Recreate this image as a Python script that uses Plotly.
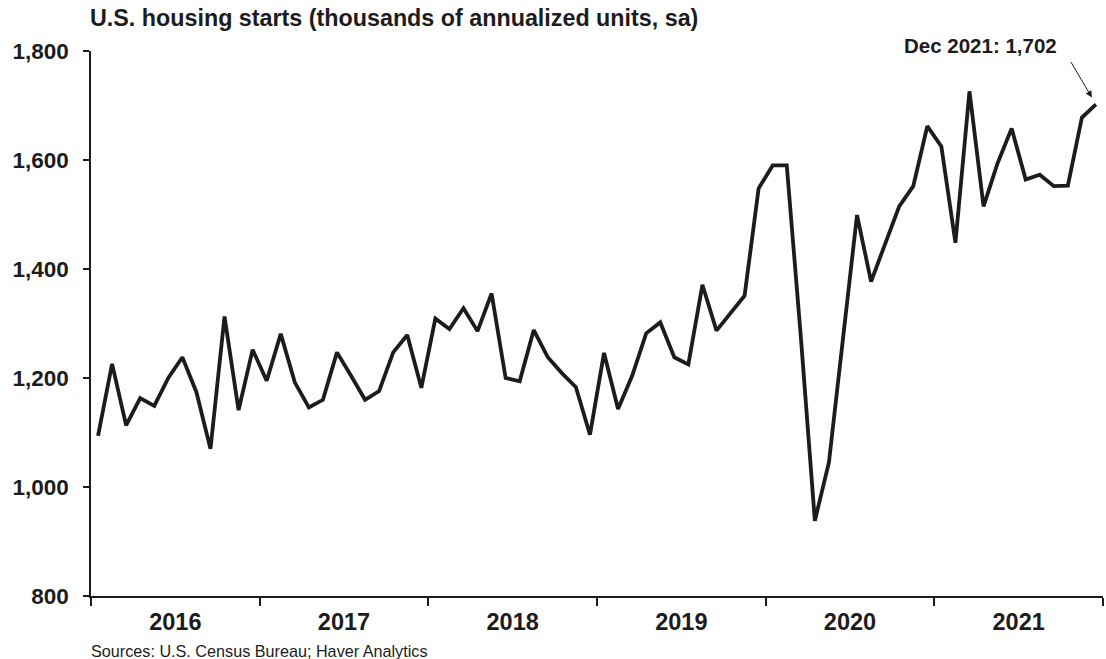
import plotly.graph_objects as go

# Monthly U.S. housing starts, thousands of units at a seasonally adjusted annual rate
years = ["2016", "2017", "2018", "2019", "2020", "2021"]
starts_2016 = [1094, 1226, 1113, 1163, 1149, 1200, 1238, 1174, 1070, 1313, 1141, 1252]
starts_2017 = [1195, 1281, 1192, 1146, 1160, 1247, 1204, 1160, 1176, 1247, 1279, 1182]
starts_2018 = [1309, 1290, 1328, 1286, 1355, 1200, 1194, 1288, 1238, 1209, 1183, 1096]
starts_2019 = [1246, 1143, 1204, 1282, 1302, 1238, 1225, 1371, 1287, 1320, 1351, 1548]
starts_2020 = [1590, 1590, 1276, 938, 1045, 1272, 1499, 1377, 1447, 1515, 1552, 1662]
starts_2021 = [1625, 1448, 1726, 1515, 1594, 1658, 1564, 1573, 1552, 1553, 1678, 1702]

starts = starts_2016 + starts_2017 + starts_2018 + starts_2019 + starts_2020 + starts_2021
# month index, plotted at the middle of each month
month_pos = [i + 0.5 for i in range(len(starts))]

INK = "#1c1c1c"
FONT = "Liberation Sans, Arial, sans-serif"

W, H = 1106, 659
ML, MR, MT, MB = 91, 3, 51, 63
PW, PH = W - ML - MR, H - MT - MB


def px_to_paper(px, py):
    return (px - ML) / PW, (H - MB - py) / PH


fig = go.Figure()
fig.add_trace(go.Scatter(
    x=month_pos, y=starts, mode="lines",
    line=dict(color=INK, width=3.8), hoverinfo="skip", showlegend=False,
))

fig.update_layout(
    width=W, height=H,
    margin=dict(l=ML, r=MR, t=MT, b=MB),
    paper_bgcolor="white", plot_bgcolor="white",
    font=dict(family=FONT, color=INK),
    title=dict(
        text="<b>U.S. housing starts (thousands of annualized units, sa)</b>",
        x=(ML - 1) / W, xanchor="left", xref="container",
        y=1 - 18 / H, yanchor="middle", yref="container",
        font=dict(size=23.3, color=INK, family=FONT),
    ),
    xaxis=dict(
        range=[0, 72],
        tickvals=[6 + 12 * k for k in range(len(years))],
        ticktext=[f"<b>{y}</b>" for y in years],
        ticks="", tickfont=dict(size=23.5, color=INK),
        showline=True, linecolor=INK, linewidth=1.5,
        showgrid=False, zeroline=False,
        minor=dict(tick0=0, dtick=12, ticks="outside", ticklen=8,
                   tickwidth=1.5, tickcolor=INK, showgrid=False),
        ticklabelstandoff=4,
    ),
    yaxis=dict(
        range=[800, 1800],
        tickvals=list(range(800, 1801, 200)),
        ticktext=[f"<b>{v:,}</b>" for v in range(800, 1801, 200)],
        ticks="outside", ticklen=6, tickwidth=1.5, tickcolor=INK,
        tickfont=dict(size=22.5, color=INK, family=FONT),
        showline=True, linecolor=INK, linewidth=1.5,
        showgrid=False, zeroline=False,
        ticklabelstandoff=10,
    ),
)

last_val = starts[-1]
fig.add_annotation(
    x=month_pos[-1], y=last_val, xref="x", yref="y",
    text="", showarrow=True, arrowhead=2, arrowsize=1.3, arrowwidth=1,
    arrowcolor=INK, ax=-26, ay=-44, standoff=8,
)

lx, ly = px_to_paper(980, 45)
fig.add_annotation(
    x=lx, y=ly, xref="paper", yref="paper",
    xanchor="center", yanchor="middle",
    text=f"<b>Dec 2021: {last_val:,}</b>", showarrow=False,
    font=dict(size=20.5, color=INK, family=FONT),
)

sx, sy = px_to_paper(89, 651)
fig.add_annotation(
    x=sx, y=sy, xref="paper", yref="paper",
    xanchor="left", yanchor="middle",
    text="Sources: U.S. Census Bureau; Haver Analytics", showarrow=False,
    font=dict(size=16.2, color=INK, family=FONT),
)

fig.write_html("out.html")
